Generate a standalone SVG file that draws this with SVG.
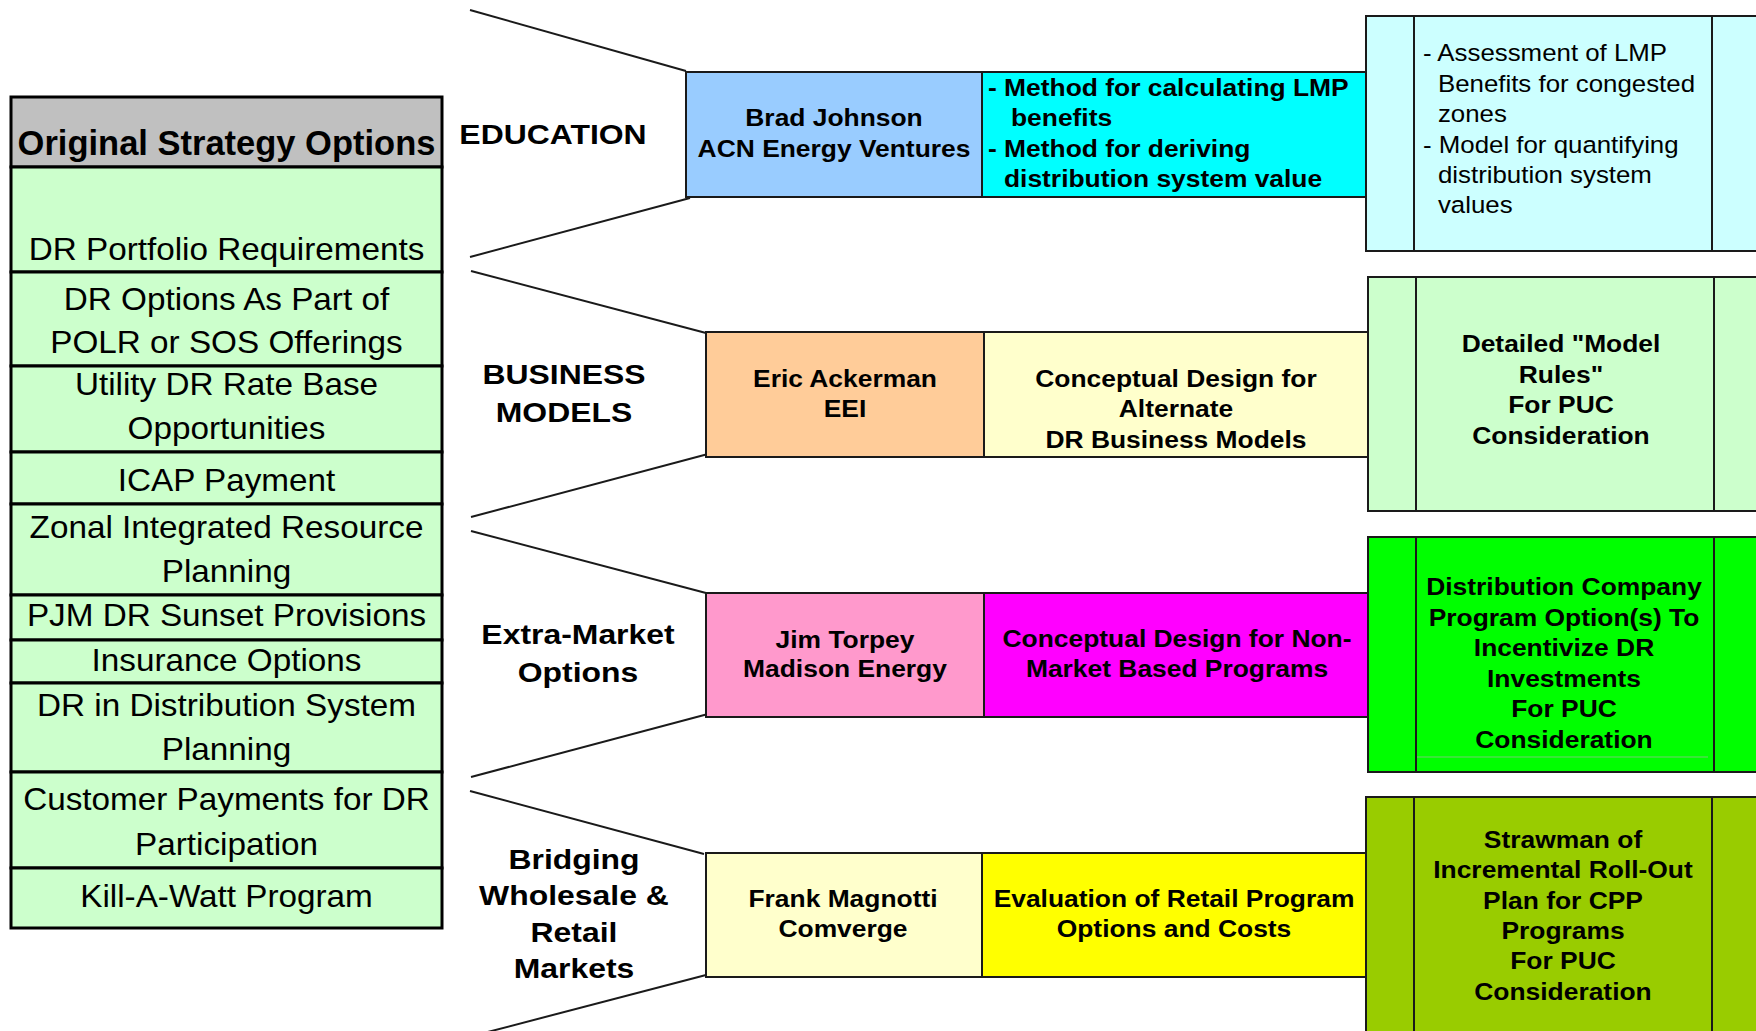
<svg xmlns="http://www.w3.org/2000/svg" width="1756" height="1031" viewBox="0 0 1756 1031">
<style>
text{font-family:"Liberation Sans",Arial,sans-serif;fill:#000}
.r{font-size:32px}
.hd{font-size:34.5px;font-weight:bold}
.lb{font-size:28.5px;font-weight:bold}
.bx{font-size:24px;font-weight:bold}
.rg{font-size:23.5px}
.c{text-anchor:middle}
.cell{stroke:#000;stroke-width:3}
.box{stroke:#1a1a1a;stroke-width:2}
.conn line{stroke:#1a1a1a;stroke-width:2}
</style>
<rect width="1756" height="1031" fill="#fff"/>

<g id="connectors" class="conn">
<line x1="470" y1="10" x2="686" y2="71"/>
<line x1="470" y1="257" x2="690" y2="198"/>
<line x1="471" y1="271" x2="706" y2="333"/>
<line x1="471" y1="517" x2="708" y2="454"/>
<line x1="471" y1="531" x2="706" y2="593"/>
<line x1="471" y1="777" x2="708" y2="714"/>
<line x1="470" y1="791" x2="704" y2="854"/>
<line x1="480" y1="1034" x2="706" y2="975"/>
</g>

<g id="strategy-table">
<rect class="cell" x="11" y="97" width="431" height="70" fill="#C0C0C0"/>
<rect class="cell" x="11" y="167" width="431" height="105" fill="#CCFFCC"/>
<rect class="cell" x="11" y="272" width="431" height="94" fill="#CCFFCC"/>
<rect class="cell" x="11" y="366" width="431" height="86" fill="#CCFFCC"/>
<rect class="cell" x="11" y="452" width="431" height="52" fill="#CCFFCC"/>
<rect class="cell" x="11" y="504" width="431" height="91" fill="#CCFFCC"/>
<rect class="cell" x="11" y="595" width="431" height="45" fill="#CCFFCC"/>
<rect class="cell" x="11" y="640" width="431" height="43" fill="#CCFFCC"/>
<rect class="cell" x="11" y="683" width="431" height="89" fill="#CCFFCC"/>
<rect class="cell" x="11" y="772" width="431" height="96" fill="#CCFFCC"/>
<rect class="cell" x="11" y="868" width="431" height="60" fill="#CCFFCC"/>
<text class="hd c" x="226.5" y="155">Original Strategy Options</text>
<g transform="translate(226.5 0) scale(1.04 1)">
<text class="r c" x="0" y="260">DR Portfolio Requirements</text>
<text class="r c" x="0" y="310">DR Options As Part of</text>
<text class="r c" x="0" y="353">POLR or SOS Offerings</text>
<text class="r c" x="0" y="395">Utility DR Rate Base</text>
<text class="r c" x="0" y="439">Opportunities</text>
<text class="r c" x="0" y="491">ICAP Payment</text>
<text class="r c" x="0" y="538">Zonal Integrated Resource</text>
<text class="r c" x="0" y="582">Planning</text>
<text class="r c" x="0" y="626">PJM DR Sunset Provisions</text>
<text class="r c" x="0" y="671">Insurance Options</text>
<text class="r c" x="0" y="716">DR in Distribution System</text>
<text class="r c" x="0" y="760">Planning</text>
<text class="r c" x="0" y="810">Customer Payments for DR</text>
<text class="r c" x="0" y="855">Participation</text>
<text class="r c" x="0" y="907">Kill-A-Watt Program</text>
</g>
</g>

<g id="label-education"><text class="lb c" transform="translate(553 0) scale(1.12 1)" x="0" y="144">EDUCATION</text></g>
<g id="label-business"><text class="lb c" transform="translate(564 0) scale(1.12 1)"><tspan x="0" y="384">BUSINESS</tspan><tspan x="0" y="422">MODELS</tspan></text></g>
<g id="label-extra"><text class="lb c" transform="translate(578 0) scale(1.12 1)"><tspan x="0" y="644">Extra-Market</tspan><tspan x="0" y="682">Options</tspan></text></g>
<g id="label-bridging"><text class="lb c" transform="translate(574 0) scale(1.12 1)"><tspan x="0" y="869">Bridging</tspan><tspan x="0" y="905">Wholesale &amp;</tspan><tspan x="0" y="942">Retail</tspan><tspan x="0" y="978">Markets</tspan></text></g>

<g id="edu-person">
<rect class="box" x="686" y="72" width="296" height="125" fill="#99CCFF"/>
<text class="bx c" transform="translate(834 0) scale(1.1 1)"><tspan x="0" y="126">Brad Johnson</tspan><tspan x="0" y="157">ACN Energy Ventures</tspan></text>
</g>
<g id="edu-desc">
<rect class="box" x="982" y="72" width="384" height="125" fill="#00FFFF"/>
<text class="bx" transform="translate(988 0) scale(1.1 1)"><tspan x="0" y="96">- Method for calculating LMP</tspan><tspan x="20.9" y="126">benefits</tspan><tspan x="0" y="157">- Method for deriving</tspan><tspan x="14.5" y="187">distribution system value</tspan></text>
</g>
<g id="edu-result">
<rect class="box" x="1366" y="16" width="400" height="235" fill="#CCFFFF" stroke-width="2.5"/>
<line class="box" x1="1414" y1="16" x2="1414" y2="251"/>
<line class="box" x1="1712" y1="16" x2="1712" y2="251"/>
<text class="rg" transform="translate(1423 0) scale(1.1 1)"><tspan x="0" y="61">- Assessment of LMP</tspan><tspan x="13.6" y="92">Benefits for congested</tspan><tspan x="13.6" y="122">zones</tspan><tspan x="0" y="153">- Model for quantifying</tspan><tspan x="13.6" y="183">distribution system</tspan><tspan x="13.6" y="213">values</tspan></text>
</g>

<g id="bus-person">
<rect class="box" x="706" y="332" width="278" height="125" fill="#FFCC99"/>
<text class="bx c" transform="translate(845 0) scale(1.1 1)"><tspan x="0" y="387">Eric Ackerman</tspan><tspan x="0" y="417">EEI</tspan></text>
</g>
<g id="bus-desc">
<rect class="box" x="984" y="332" width="384" height="125" fill="#FFFFCC"/>
<text class="bx c" transform="translate(1176 0) scale(1.1 1)"><tspan x="0" y="387">Conceptual Design for</tspan><tspan x="0" y="417">Alternate</tspan><tspan x="0" y="448">DR Business Models</tspan></text>
</g>
<g id="bus-result">
<rect class="box" x="1368" y="277" width="400" height="234" fill="#CCFFCC" stroke-width="2.5"/>
<line class="box" x1="1416" y1="277" x2="1416" y2="511"/>
<line class="box" x1="1714" y1="277" x2="1714" y2="511"/>
<text class="bx c" transform="translate(1561 0) scale(1.1 1)"><tspan x="0" y="352">Detailed "Model</tspan><tspan x="0" y="383">Rules"</tspan><tspan x="0" y="413">For PUC</tspan><tspan x="0" y="444">Consideration</tspan></text>
</g>

<g id="ext-person">
<rect class="box" x="706" y="593" width="278" height="124" fill="#FF99CC"/>
<text class="bx c" transform="translate(845 0) scale(1.1 1)"><tspan x="0" y="648">Jim Torpey</tspan><tspan x="0" y="677">Madison Energy</tspan></text>
</g>
<g id="ext-desc">
<rect class="box" x="984" y="593" width="384" height="124" fill="#FF00FF"/>
<text class="bx c" transform="translate(1177 0) scale(1.1 1)"><tspan x="0" y="647">Conceptual Design for Non-</tspan><tspan x="0" y="677">Market Based Programs</tspan></text>
</g>
<g id="ext-result">
<rect class="box" x="1368" y="537" width="400" height="235" fill="#00FF00" stroke-width="2.5"/>
<line class="box" x1="1416" y1="537" x2="1416" y2="772"/>
<line class="box" x1="1714" y1="537" x2="1714" y2="772"/>
<line x1="1417" y1="757" x2="1708" y2="757" stroke="#8FBF8F" stroke-width="0.8"/>
<text class="bx c" transform="translate(1564 0) scale(1.1 1)"><tspan x="0" y="595">Distribution Company</tspan><tspan x="0" y="625.6">Program Option(s) To</tspan><tspan x="0" y="656">Incentivize DR</tspan><tspan x="0" y="687">Investments</tspan><tspan x="0" y="717">For PUC</tspan><tspan x="0" y="748">Consideration</tspan></text>
</g>

<g id="bri-person">
<rect class="box" x="706" y="853" width="276" height="124" fill="#FFFFCC"/>
<text class="bx c" transform="translate(843 0) scale(1.1 1)"><tspan x="0" y="907">Frank Magnotti</tspan><tspan x="0" y="937">Comverge</tspan></text>
</g>
<g id="bri-desc">
<rect class="box" x="982" y="853" width="384" height="124" fill="#FFFF00"/>
<text class="bx c" transform="translate(1174 0) scale(1.1 1)"><tspan x="0" y="907">Evaluation of Retail Program</tspan><tspan x="0" y="937">Options and Costs</tspan></text>
</g>
<g id="bri-result">
<rect class="box" x="1366" y="797" width="400" height="250" fill="#99CC00" stroke-width="2.5"/>
<line class="box" x1="1414" y1="797" x2="1414" y2="1040"/>
<line class="box" x1="1712" y1="797" x2="1712" y2="1040"/>
<text class="bx c" transform="translate(1563 0) scale(1.1 1)"><tspan x="0" y="848">Strawman of</tspan><tspan x="0" y="878">Incremental Roll-Out</tspan><tspan x="0" y="909">Plan for CPP</tspan><tspan x="0" y="939">Programs</tspan><tspan x="0" y="969">For PUC</tspan><tspan x="0" y="1000">Consideration</tspan></text>
</g>
</svg>
